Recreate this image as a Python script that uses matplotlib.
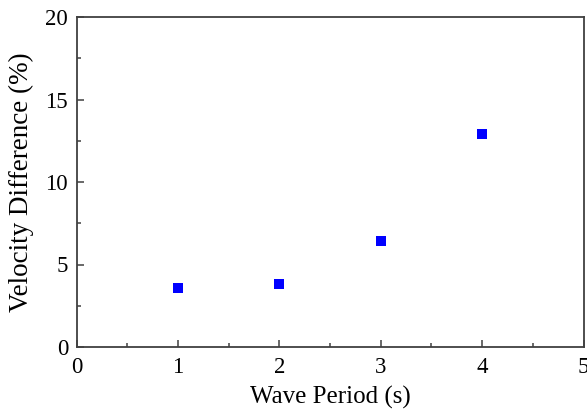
import matplotlib

matplotlib.use("Agg")
import matplotlib.pyplot as plt
from matplotlib.ticker import MultipleLocator

# data
wave_period = [1, 2, 3, 4]
velocity_diff = [3.6, 3.8, 6.4, 12.9]

plt.rcParams["font.family"] = ["Liberation Serif", "DejaVu Serif"]

fig = plt.figure(figsize=(5.87, 4.12), dpi=100)
ax = fig.add_axes([76.5 / 587, 1 - 347 / 412, (583.5 - 76.5) / 587, (347 - 17) / 412])

ax.scatter(wave_period, velocity_diff, marker="s", s=42, color="#0000ff", linewidths=0, zorder=3)

ax.set_xlim(0, 5)
ax.set_ylim(0, 20)
ax.xaxis.set_major_locator(MultipleLocator(1))
ax.xaxis.set_minor_locator(MultipleLocator(0.5))
ax.yaxis.set_major_locator(MultipleLocator(5))
ax.yaxis.set_minor_locator(MultipleLocator(2.5))

for s in ax.spines.values():
    s.set_color("#404040")
    s.set_linewidth(1.3)
ax.tick_params(which="both", direction="in", top=False, right=False, color="#404040", width=1.1)
ax.tick_params(which="major", length=5, labelsize=16.5)
ax.tick_params(axis="x", which="major", pad=7)
ax.tick_params(axis="y", which="major", pad=6)
ax.tick_params(which="minor", length=3)

ax.set_xlabel("Wave Period (s)", fontsize=18, labelpad=6)
ax.set_ylabel("Velocity Difference (%)", fontsize=19.5, labelpad=8)

fig.savefig("out.png", dpi=100)
